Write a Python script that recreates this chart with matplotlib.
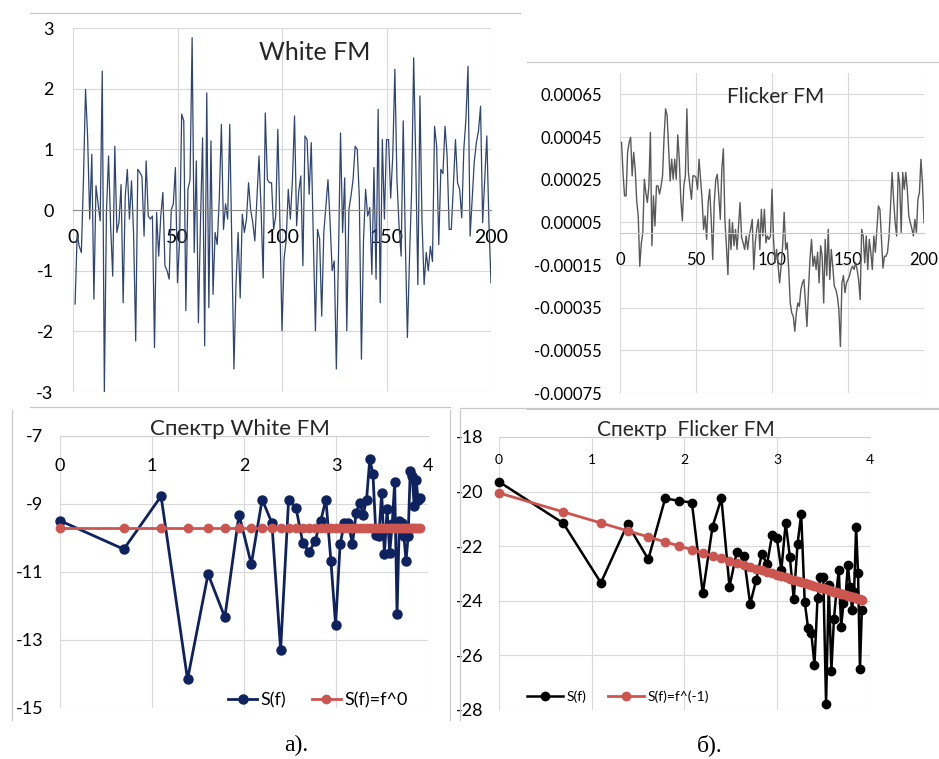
import numpy as np
import matplotlib
matplotlib.use('Agg')
import matplotlib.pyplot as plt
from matplotlib.lines import Line2D
from matplotlib.ticker import FuncFormatter

plt.rcParams['font.family'] = ['Lato', 'DejaVu Sans']
plt.rcParams['axes.unicode_minus'] = False

W, H = 939, 759

# time series, samples 1..200
white_fm = [
    -1.55, -0.4, -0.6, -0.7, 0.5, 1.99, 1.2, -0.15, 0.92, -1.47,
    0.4, 0.1, -0.18, 2.29, -3.0, -0.05, 0.89, -0.26, -1.09, 1.05,
    -0.37, -0.2, 0.42, -1.53, 0.23, 0.67, -0.15, 0.48, -0.4, -2.16,
    0.67, 0.62, 0.55, -0.43, 0.81, -0.1, -0.15, -0.1, -2.27, -0.04,
    -0.76, -0.1, 0.29, -0.92, -1.0, -1.14, 0.0, 0.1, 0.7, -1.2,
    -0.5, 1.58, 1.47, -1.66, 0.34, 0.5, 2.84, -0.7, 0.81, -1.86,
    -0.2, 1.19, -2.24, 1.93, -1.61, 1.14, -1.39, -0.37, -0.57, 0.2,
    1.41, -0.32, 0.1, -0.15, 1.41, -0.6, -2.62, -1.2, -0.37, -1.45,
    -0.07, -0.37, -0.15, 0.45, 0.0, -0.2, -0.51, 0.2, 0.89, 0.0,
    -1.12, 1.6, 0.5, 0.45, 0.45, -0.32, -0.1, 1.33, -0.2, -1.99,
    -0.8, -0.5, 0.34, -0.15, 0.5, 1.55, -0.26, 0.3, 0.56, -0.92,
    1.22, 1.16, 0.26, 1.11, -0.5, -1.99, -0.32, -0.48, -1.75, -0.37,
    0.07, 0.5, -0.2, -1.0, -0.84, -2.62, -0.8, 1.27, -0.37, 0.53,
    -1.99, 0.0, 0.23, 0.5, 1.05, 1.0, 0.2, -2.46, -0.5, 0.34,
    -0.1, 0.04, -1.06, 0.7, -1.14, 1.66, -1.53, 1.16, -0.15, 1.16,
    1.16, 0.2, 0.9, 2.32, 0.5, -0.26, -0.76, 1.47, -0.5, -2.1,
    -0.8, 0.3, 2.51, 0.8, -1.23, 1.88, -0.2, -1.23, -0.7, -1.0,
    -0.6, -0.85, 1.38, 1.05, -0.57, 0.67, 0.6, 1.38, 0.9, -0.32,
    -0.32, 0.4, 1.16, 0.45, 0.34, -0.13, 1.0, 1.5, 2.37, -0.43,
    0.2, 0.8, 1.11, 1.3, 1.71, -0.21, 0.5, 1.22, -0.2, -1.2,
]

# flicker FM in units of 1e-4
flicker_fm_e4 = [
    4.25, 2.8, 1.74, 1.74, 3.78, 4.25, 4.49, 2.68, 3.78, 2.99,
    1.5, 0.8, -1.56, -0.5, 0.02, 2.52, 1.9, 1.43, 2.21, 4.72,
    -0.6, 1.74, 0.33, 2.21, 2.21, 1.82, 2.2, 2.68, 4.5, 5.82,
    5.5, 3.94, 2.44, 3.46, 2.52, 3.46, 2.52, 4.6, 3.46, 1.58,
    0.57, 2.21, 2.68, 5.82, 2.84, 2.2, 1.58, 2.68, 2.68, 2.6,
    2.05, 3.46, 2.52, 1.58, 0.17, 0.8, -0.3, 1.43, 2.05, 0.64,
    -1.24, 1.43, 2.5, 2.75, 1.74, 0.64, 3.0, 3.94, 0.64, -0.6,
    -1.95, 0.64, -0.77, 0.48, -0.6, 0.17, -0.77, 0.33, 1.43, -0.2,
    -0.46, -0.77, -0.14, -0.77, -0.14, 0.2, 0.64, -1.71, -0.46, 0.2,
    0.64, -0.77, 1.11, -0.14, 1.11, -0.46, -0.14, -0.3, -0.14, 2.05,
    -0.3, -1.4, -0.77, -1.5, -2.34, -1.56, -0.6, 0.96, -0.77, -0.46,
    -1.71, -3.28, -3.75, -3.9, -4.61, -3.75, -3.28, -3.44, -2.65, -2.34,
    -2.18, -3.28, -4.38, -2.65, -1.2, -0.3, -1.56, -1.09, -1.71, -0.9,
    -2.34, -0.6, -1.09, -3.28, -0.3, -2.0, 0.17, -2.18, -0.77, -1.6,
    -2.5, -2.65, -2.97, -3.6, -5.32, -2.34, -2.0, -2.8, -2.34, -2.18,
    -2.0, -1.71, -1.56, -1.71, -1.4, -1.71, -2.2, -3.12, 0.17, -0.14,
    -1.4, -0.14, -1.71, -0.3, -0.9, -1.71, -0.14, -0.9, 0.17, 1.27,
    1.11, -0.3, -1.64, -1.09, -1.09, -0.9, -0.14, 1.27, 2.84, 1.58,
    0.5, -0.14, 2.84, 2.3, 0.02, 2.84, 2.05, 2.84, 2.05, 0.8,
    0.48, 0.2, -0.14, 0.64, 0.02, 1.58, 1.9, 3.46, 2.3, 0.48,
]

# log-spectra at harmonics k = 1..50, plotted against ln(k)
spec_white = [
    -9.49, -10.33, -8.77, -14.16, -11.06, -12.33, -9.31, -10.77, -8.87, -9.55,
    -13.3, -8.87, -9.11, -10.14, -10.41, -10.09, -9.5, -8.87, -10.67, -12.56,
    -10.19, -9.55, -9.55, -10.19, -9.26, -8.97, -9.31, -8.87, -7.68, -8.11,
    -9.9, -9.95, -8.68, -10.48, -9.16, -10.43, -9.6, -8.36, -12.23, -9.5,
    -9.55, -9.95, -10.67, -9.95, -8.04, -8.19, -9.07, -8.29, -8.87, -8.82,
]
spec_flicker = [
    -19.64, -21.16, -23.34, -21.19, -22.48, -20.25, -20.34, -20.4, -23.73, -21.28,
    -20.25, -23.48, -22.2, -22.36, -24.12, -23.24, -22.29, -22.65, -21.59, -21.71,
    -22.87, -21.14, -22.38, -23.94, -21.92, -20.82, -24.03, -25.0, -25.19, -26.35,
    -23.91, -23.12, -23.12, -27.78, -23.42, -26.56, -24.68, -23.67, -22.87, -24.95,
    -24.09, -23.8, -22.69, -23.48, -24.34, -23.67, -21.31, -22.99, -26.51, -24.34,
]

# fitted models: S(f)=f^0 (flat) and S(f)=f^(-1) (slope -1 in log-log)
white_fit_level = -9.72
flicker_fit_offset = -20.05
flicker_fit_slope = -1.0

n = np.arange(1, len(white_fm) + 1)
harm = np.arange(1, len(spec_white) + 1)
logf = np.log(harm)
white_fit = np.full(len(harm), white_fit_level)
flicker_fit = flicker_fit_offset + flicker_fit_slope * logf

GRID = '#D9D9D9'
NAVY = '#0F2260'
RED = '#CD5550'


def box(x0, y0, x1, y1):
    return [x0 / W, 1 - y1 / H, (x1 - x0) / W, (y1 - y0) / H]


def excel_style(ax, axis_at, axis_color):
    for s in ax.spines.values():
        s.set_visible(False)
    ax.spines['bottom'].set_visible(True)
    ax.spines['bottom'].set_position(('data', axis_at))
    ax.spines['bottom'].set_color(axis_color)
    ax.spines['bottom'].set_linewidth(0.8)
    ax.grid(True, color=GRID, linewidth=0.8)
    ax.set_axisbelow(True)
    ax.tick_params(length=0)


fig = plt.figure(figsize=(W / 100, H / 100), dpi=100)

# --- White FM time series ---
ax1 = fig.add_axes(box(73, 28, 491, 392))
ax1.plot(n, white_fm, color='#2E4473', lw=0.9)
ax1.set_xlim(0, 200)
ax1.set_ylim(-3, 3)
ax1.set_xticks(range(0, 201, 50))
ax1.set_yticks(range(-3, 4))
excel_style(ax1, 0, '#8C8C8C')
ax1.tick_params(axis='x', labelsize=14, pad=14)
ax1.tick_params(axis='y', labelsize=13, pad=14)
fig.text(315 / W, 1 - 52 / H, 'White FM', ha='center', va='center',
         fontsize=18, color='#262626')

# --- Flicker FM time series ---
ax2 = fig.add_axes(box(620, 73, 924, 393))
ax2.plot(n, np.array(flicker_fm_e4) * 1e-4, color='#595959', lw=1.0)
ax2.set_xlim(0, 200)
ax2.set_ylim(-0.00075, 0.00075)
ax2.set_xticks(range(0, 201, 50))
ax2.set_yticks(np.round(np.arange(-0.00075, 0.0007, 0.0002), 5))
ax2.yaxis.set_major_formatter(FuncFormatter(lambda v, p: f'{v:.5f}'))
excel_style(ax2, 0, '#C8C8C8')
ax2.tick_params(axis='x', labelsize=12, pad=14)
ax2.tick_params(axis='y', labelsize=12, pad=13)
fig.text(776 / W, 1 - 97 / H, 'Flicker FM', ha='center', va='center',
         fontsize=15, color='#262626')

# --- spectrum of White FM ---
ax3 = fig.add_axes(box(60, 436, 428, 708))
ax3.plot(logf, spec_white, '-o', color=NAVY, lw=2.0, ms=6.5,
         clip_on=False, label='S(f)')
ax3.plot(logf, white_fit, '-o', color=RED, lw=2.0, ms=6,
         clip_on=False, label='S(f)=f^0')
ax3.set_xlim(0, 4)
ax3.set_ylim(-15, -7)
ax3.set_xticks(range(0, 5))
ax3.set_yticks(range(-15, -6, 2))
excel_style(ax3, -7, '#D0D0D0')
ax3.tick_params(axis='x', labelsize=13, pad=16)
ax3.tick_params(axis='y', labelsize=13, pad=12)
ax3.legend(loc='center', bbox_to_anchor=(318 / W, 1 - 700 / H),
           bbox_transform=fig.transFigure, ncol=2, frameon=False,
           fontsize=13, handlelength=1.6, handletextpad=0.2,
           columnspacing=1.4)
fig.text(240 / W, 1 - 429 / H, 'Спектр White FM', ha='center', va='center',
         fontsize=16, color='#262626')

# --- spectrum of Flicker FM ---
ax4 = fig.add_axes(box(499, 437, 870, 710))
ax4.plot(logf, spec_flicker, '-o', color='black', lw=1.8, ms=6,
         clip_on=False, label='S(f)')
ax4.plot(logf, flicker_fit, '-o', color=RED, lw=2.0, ms=6,
         clip_on=False, label='S(f)=f^(-1)')
ax4.set_xlim(0, 4)
ax4.set_ylim(-28, -18)
ax4.set_xticks(range(0, 5))
ax4.set_yticks(range(-28, -17, 2))
excel_style(ax4, -18, '#D0D0D0')
ax4.tick_params(axis='x', labelsize=10, pad=12)
ax4.tick_params(axis='y', labelsize=13, pad=11)
ax4.legend(loc='center', bbox_to_anchor=(618 / W, 1 - 697 / H),
           bbox_transform=fig.transFigure, ncol=2, frameon=False,
           fontsize=10, handlelength=2.6, handletextpad=0.2,
           columnspacing=1.6)
fig.text(686 / W, 1 - 430 / H, 'Спектр  Flicker FM', ha='center',
         va='center', fontsize=15, color='#262626')

# chart frame edges
frame = [((30, 13), (520, 13)), ((527, 62), (939, 62)),
         ((527, 409), (939, 409)), ((30, 407), (450, 407)),
         ((460, 408), (939, 408)), ((12, 410), (12, 720)),
         ((450, 410), (450, 720)), ((460, 410), (460, 720))]
for (xa, ya), (xb, yb) in frame:
    fig.add_artist(Line2D([xa / W, xb / W], [1 - ya / H, 1 - yb / H],
                          color='#C8C8C8', lw=0.9))

fig.text(296 / W, 1 - 745 / H, 'а).', ha='center', va='center',
         family='Liberation Serif', fontsize=17)
fig.text(710 / W, 1 - 745 / H, 'б).', ha='center', va='center',
         family='Liberation Serif', fontsize=17)

fig.savefig('out.png', dpi=100)
